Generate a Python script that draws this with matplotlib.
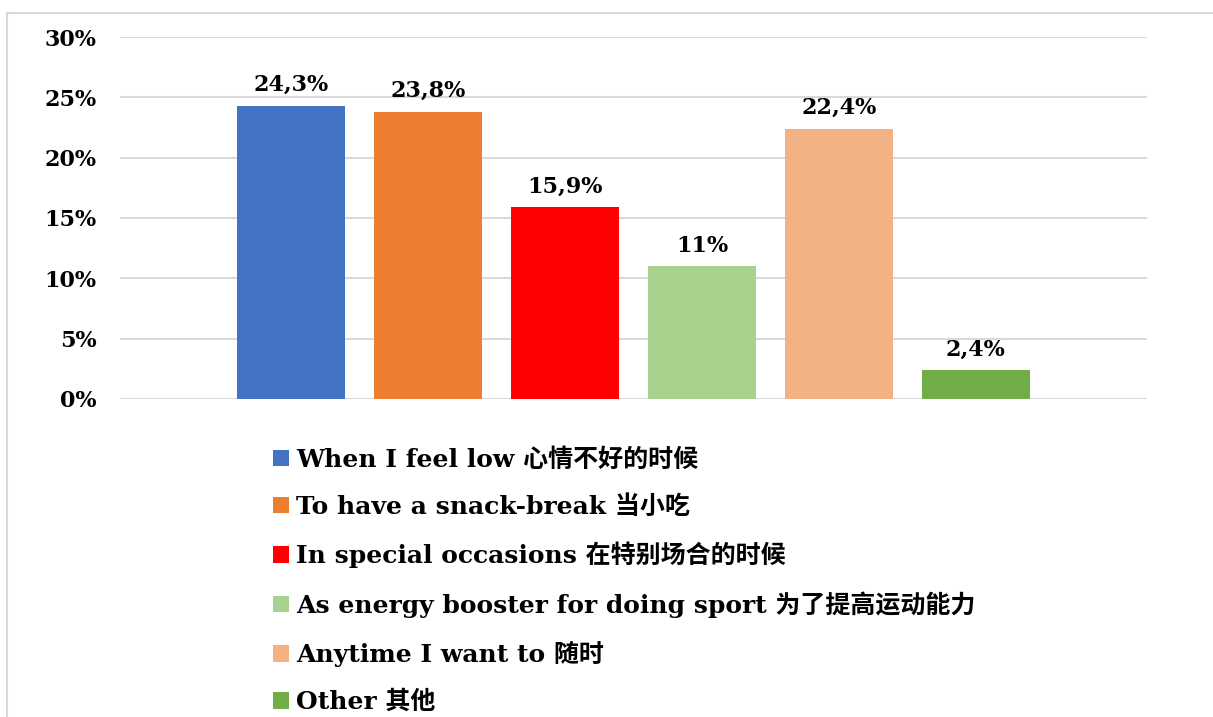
import matplotlib.pyplot as plt
import numpy as np
from matplotlib.patches import Patch, Rectangle

plt.rcParams['font.family'] = ['DejaVu Serif', 'Noto Sans CJK SC']
plt.rcParams['font.weight'] = 'bold'

labels = [
    "When I feel low 心情不好的时候",
    "To have a snack-break 当小吃",
    "In special occasions 在特别场合的时候",
    "As energy booster for doing sport 为了提高运动能力",
    "Anytime I want to 随时",
    "Other 其他",
]
values = [24.3, 23.8, 15.9, 11.0, 22.4, 2.4]
colors = ["#4472C4", "#ED7D31", "#FF0000", "#A9D18E", "#F4B183", "#70AD47"]

fig = plt.figure(figsize=(12.13, 7.17), dpi=100)
ax = fig.add_axes([120/1213, 1 - 399/717, 1027/1213, 362/717])

# chart border
fig.patches.append(Rectangle((7/1213, -0.1), 1.2, 1 - 13/717 + 0.1, transform=fig.transFigure,
                             fill=False, edgecolor="#d9d9d9", linewidth=1.5))

x = np.arange(len(values))
bars = ax.bar(x, values, width=0.79, color=colors, zorder=3)
ax.bar_label(bars, labels=[f"{v:g}".replace('.', ',') + '%' for v in values],
             padding=7, fontsize=16, fontweight='bold')

ax.set_xlim(-1.25, 6.25)
ax.set_ylim(0, 30)
ax.set_yticks(np.arange(0, 31, 5))
ax.set_yticklabels([f"{t}%" for t in range(0, 31, 5)], fontsize=16, fontweight='bold')
ax.set_xticks([])
ax.tick_params(axis='y', length=0, pad=17)
ax.grid(axis='y', color="#d9d9d9", linewidth=1.5, zorder=0)
for s in ax.spines.values():
    s.set_visible(False)

handles = [Patch(facecolor=c, label=l) for c, l in zip(colors, labels)]
fig.legend(handles=handles, loc='upper left', bbox_to_anchor=(273/1213, 1 - 448/717),
           frameon=False, fontsize=18, handlelength=0.64, handleheight=0.64,
           handletextpad=0.3, labelspacing=0.92, borderaxespad=0, borderpad=0)

fig.savefig("out.png", dpi=100)
